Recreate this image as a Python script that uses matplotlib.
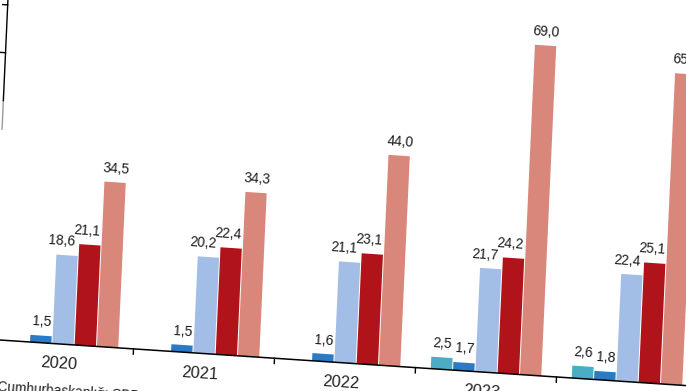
import numpy as np
import matplotlib
matplotlib.use("Agg")
import matplotlib.pyplot as plt
from matplotlib import font_manager
from matplotlib.transforms import Affine2D

# data
years = ["2020", "2021", "2022", "2023", "2024"]
teal_vals = [np.nan, np.nan, np.nan, 2.5, 2.6]
blue_vals = [1.5, 1.5, 1.6, 1.7, 1.8]
light_vals = [18.6, 20.2, 21.1, 21.7, 22.4]
red_vals = [21.1, 22.4, 23.1, 24.2, 25.1]
salmon_vals = [34.5, 34.3, 44.0, 69.0, 65.0]
source_text = "Cumhurbaşkanlığı SBB, OVP"

colors = ["#4BACC6", "#2A7BC6", "#A3BEE6", "#B0141A", "#D8877A"]
label_dx = [0.0, 0.0, -0.042, -0.028, 0.0]


def pick_font():
    for name in ["Liberation Sans Narrow", "Liberation Sans", "DejaVu Sans"]:
        try:
            font_manager.findfont(name, fallback_to_default=False)
            return name
        except ValueError:
            pass
    return "DejaVu Sans"


font = pick_font()
plt.rcParams["font.family"] = [font, "DejaVu Sans"]

W, H = 686, 391
fig = plt.figure(figsize=(W / 100, H / 100), dpi=100)

# the picture is a tilted shot of the chart: baseline drops ~3.8 deg, bars lean ~2.6 deg
px_cat = 141.0   # pixels per category
px_val = 4.78    # pixels per unit
piv_x, piv_y = 63.0, 46.8
left = piv_x - 0.5 * px_cat
ax = fig.add_axes([left / W, piv_y / H, 5 * px_cat / W, 80 * px_val / H])
ax.set_xlim(-0.5, 4.5)
ax.set_ylim(0, 80)
ax.set_axis_off()

sa = np.tan(np.radians(3.8))
sb = np.tan(np.radians(2.6))
skew = (Affine2D().translate(-piv_x, -piv_y)
        + Affine2D(np.array([[1.0, sb, 0.0], [-sa, 1.0, 0.0], [0.0, 0.0, 1.0]]))
        + Affine2D().translate(piv_x, piv_y))
tr = ax.transData + skew
rot = -3.8

series = [teal_vals, blue_vals, light_vals, red_vals, salmon_vals]
x = np.arange(len(years))
slot = 22.3 / px_cat
bar_w = 21.3 / px_cat

for j, vals in enumerate(series):
    vals = np.array(vals, dtype=float)
    ok = ~np.isnan(vals)
    xs = x + (j - 2) * slot
    ax.bar(xs[ok], vals[ok], width=bar_w, color=colors[j], transform=tr,
           clip_on=False, zorder=2, linewidth=0)
    for xi, v in zip(xs[ok], vals[ok]):
        ax.text(xi + label_dx[j], v + 2.0, f"{v:.1f}".replace(".", ","),
                transform=tr, ha="center", va="baseline", rotation=rot,
                rotation_mode="anchor", fontsize=9.9, color="#1a1a1a",
                clip_on=False)

# category axis
ax.plot([-0.5, 4.7], [0, 0], color="black", lw=1.1, transform=tr,
        clip_on=False, zorder=3)
for t in np.arange(0.5, 5.0, 1.0):
    ax.plot([t, t], [0, -1.1], color="black", lw=1.0, transform=tr,
            clip_on=False)
for i, yr in enumerate(years):
    ax.text(i - 0.02, -2.6, yr, transform=tr, ha="center", va="top",
            rotation=rot, rotation_mode="anchor", fontsize=11.8,
            color="#222222", clip_on=False)

# value axis (only its upper part shows)
ax.plot([-0.5, -0.5], [44, 50], color="#999999", lw=1.0, transform=tr,
        clip_on=False)
ax.plot([-0.5, -0.5], [50, 85], color="black", lw=1.0, transform=tr,
        clip_on=False)
for t in [60, 70]:
    ax.plot([-0.5 - 0.035, -0.5], [t, t], color="black", lw=1.0,
            transform=tr, clip_on=False)

ax.text(-0.45, -8.3, source_text, transform=tr, ha="left", va="top",
        rotation=rot, rotation_mode="anchor", fontsize=9.8, color="#222222",
        clip_on=False)

fig.savefig("out.png", dpi=100, facecolor="white")
